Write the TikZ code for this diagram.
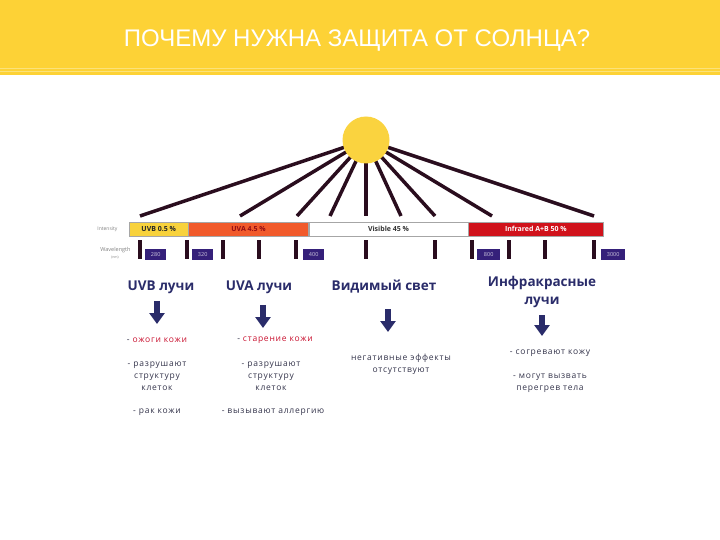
\documentclass[tikz,border=0pt]{standalone}
\usepackage{fontspec}
\setmainfont{Open Sans}
\newfontfamily\titlefont{Liberation Sans}
\newfontfamily\bodyfont[LetterSpace=9]{Open Sans}
\usetikzlibrary{arrows.meta,positioning}

\definecolor{headyellow}{HTML}{FDD236}
\definecolor{stripe}{HTML}{FBE27A}
\definecolor{suncol}{HTML}{FAD33F}
\definecolor{raycol}{HTML}{2A0D1E}
\definecolor{uvbcol}{HTML}{F8D23C}
\definecolor{uvacol}{HTML}{F15A2B}
\definecolor{ircol}{HTML}{D0121B}
\definecolor{nmbox}{HTML}{35207A}
\definecolor{navy}{HTML}{2A2C6A}
\definecolor{burn}{HTML}{C8102E}
\definecolor{bodytext}{HTML}{33334A}

\begin{document}
\begin{tikzpicture}[x=1pt,y=-1pt,
    ray/.style={draw=raycol,line width=3.5pt},
    tickline/.style={draw=raycol,line width=3.5pt},
    band/.style={draw=gray!70,minimum height=14pt,inner sep=0pt,anchor=west,
        font=\fontsize{7}{8}\selectfont\bfseries},
    nmlabel/.style={fill=nmbox,text=white!75!nmbox,inner sep=0pt,
        minimum width=21pt,minimum height=11pt,anchor=west,
        font=\fontsize{5.5}{6}\selectfont},
    axislabel/.style={text=gray,font=\fontsize{5}{6}\selectfont,anchor=east},
    heading/.style={text=navy,align=center,font=\fontsize{13.5}{18}\selectfont\bfseries},
    effect/.style={text=bodytext,align=center,font=\bodyfont\fontsize{8.5}{12}\selectfont},
    downarrow/.style={draw=navy,line width=5.5pt,-{Triangle[width=15pt,length=11pt]}}
    ]
    \useasboundingbox (0,0) rectangle (720,540);

    % header
    \fill[headyellow] (0,0) rectangle (720,75);
    \draw[stripe,line width=1pt] (0,68.5) -- (720,68.5) (0,72) -- (720,72);
    \node[text=white,font=\titlefont\fontsize{24}{26}\selectfont] (title) at (357,41)
        {ПОЧЕМУ НУЖНА ЗАЩИТА ОТ СОЛНЦА?};

    % sun and rays
    \coordinate (sunc) at (366,140);
    \foreach \x [count=\i] in {140,240,297,330,366,401,435,492,594}
        \draw[ray] (sunc) -- (\x,216) coordinate (r\i);
    \fill[suncol] (sunc) circle (23.5);

    % intensity band
    \node[axislabel] (intensity) at (121,229) {Intensity};
    \node[band,fill=uvbcol,text=black!85,minimum width=59pt] (uvb) at (129,229) {UVB 0.5 \%};
    \node[band,fill=uvacol,text=ircol!70!black,minimum width=120pt] (uva) at (uvb.east) {UVA 4.5 \%};
    \node[band,fill=white,text=black!80,minimum width=159pt] (vis) at (uva.east) {Visible 45 \%};
    \node[band,fill=ircol,text=white,minimum width=135pt] (ir) at (vis.east) {Infrared A+B 50 \%};

    % wavelength scale
    \node[axislabel,font=\fontsize{5.5}{6}\selectfont] (wave) at (134,250) {Wavelength};
    \node[text=gray,font=\fontsize{3.5}{4}\selectfont] (nm) at (115,258) {(nm)};
    \foreach \x [count=\i] in {140,187,223,259,296,366,435,472,509,545,594}
        \draw[tickline] (\x,240) -- (\x,259) coordinate[midway] (t\i);
    \node[nmlabel] (nm280) at ([xshift=5pt,yshift=-5pt]t1) {280};
    \node[nmlabel] (nm320) at ([xshift=5pt,yshift=-5pt]t2) {320};
    \node[nmlabel] (nm400) at ([xshift=7pt,yshift=-5pt]t5) {400};
    \node[nmlabel,minimum width=23pt] (nm800) at ([xshift=5pt,yshift=-5pt]t8) {800};
    \node[nmlabel,minimum width=24pt] (nm3000) at ([xshift=7pt,yshift=-5pt]t11) {3000};

    % headings
    \node[heading] (uvbhead) at (161,287) {UVB лучи};
    \node[heading] (uvahead) at (259,287) {UVA лучи};
    \node[heading] (vishead) at (384,287) {Видимый свет};
    \node[heading] (irhead) at (542,292) {Инфракрасные\\лучи};

    % effects
    \node[effect] (uvbburn) at (157,340) {- \textcolor{burn}{ожоги кожи}};
    \node[effect] (uvbcells) at (157,376) {- разрушают\\структуру\\клеток};
    \node[effect] (uvbcancer) at (157,412) {- рак кожи};
    \node[effect] (uvaage) at (275,340) {- \textcolor{burn}{старение кожи}};
    \node[effect] (uvacells) at (271,376) {- разрушают\\структуру\\клеток};
    \node[effect] (uvaallergy) at (273,412) {- вызывают аллергию};
    \node[effect] (visnone) at (401,364) {негативные эффекты\\отсутствуют};
    \node[effect] (irwarm) at (550,353) {- согревают кожу};
    \node[effect] (irheat) at (550,383) {- могут вызвать\\перегрев тела};

    % arrows
    \draw[downarrow] (uvbhead.south -| uvbburn.north) ++(0,4) -- (uvbburn.north |- 0,324);
    \draw[downarrow] (uvahead.south -| 263,0) ++(0,8) -- (263,328);
    \draw[downarrow] (vishead.south -| 388,0) ++(0,12) -- (388,332);
    \draw[downarrow] (irhead.south) ++(0,4) -- (542,336);
\end{tikzpicture}
\end{document}
